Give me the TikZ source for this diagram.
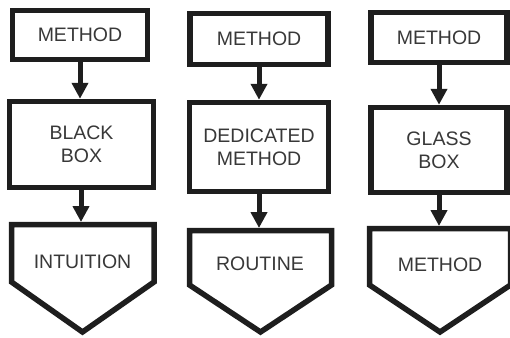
\documentclass[tikz,border=0pt]{standalone}
\usepackage{fontspec}
\setmainfont{Liberation Sans}
\usetikzlibrary{arrows.meta}
\definecolor{ink}{HTML}{1E1E1E}
\definecolor{txt}{HTML}{383838}
\begin{document}
\begin{tikzpicture}[x=1pt,y=-1pt,
  lbl/.style={text=txt, align=center, inner sep=0pt, font=\fontsize{19.5}{23}\selectfont},
  box/.style={lbl, draw=ink, line width=5.5pt, rectangle},
  pent/.style={draw=ink, line width=5.5pt, line join=miter},
  flow/.style={draw=ink, line width=5pt, -{Triangle[width=16pt,length=16pt]}}]
\useasboundingbox (0,0) rectangle (510,337);

% column 1
\node[box, minimum width=135pt, minimum height=49pt] (a1) at (80,35) {METHOD};
\node[box, minimum width=144pt, minimum height=86pt] (b1) at (81.5,144.5) {BLACK\\BOX};
\draw[pent] (11.5,224.5) -- (154,224.5) -- (154,282) -- (82.5,332) -- (11.5,282) -- cycle;
\coordinate (c1top) at (81,222);
\node[lbl] (c1) at (82.5,262) {INTUITION};
\draw[flow] (a1) -- (a1 |- b1.north);
\draw[flow] (b1.south -| c1top) -- (c1top);

% column 2
\node[box, minimum width=138pt, minimum height=51pt] (a2) at (259,39) {METHOD};
\node[box, minimum width=139pt, minimum height=89pt] (b2) at (259,147) {DEDICATED\\METHOD};
\draw[pent] (189.5,230.5) -- (331.5,230.5) -- (331.5,285) -- (260.5,332) -- (189.5,285) -- cycle;
\coordinate (c2top) at (259,228);
\node[lbl] (c2) at (260,264) {ROUTINE};
\draw[flow] (a2) -- (b2);
\draw[flow] (b2) -- (c2top);

% column 3
\node[box, minimum width=136pt, minimum height=50pt] (a3) at (439,37.5) {METHOD};
\node[box, minimum width=136pt, minimum height=85pt] (b3) at (439,150) {GLASS\\BOX};
\draw[pent] (369.5,228.5) -- (510.5,228.5) -- (510.5,285) -- (440,332) -- (369.5,285) -- cycle;
\coordinate (c3top) at (439,226);
\node[lbl] (c3) at (440,265) {METHOD};
\draw[flow] (a3) -- (b3);
\draw[flow] (b3) -- (c3top);
\end{tikzpicture}
\end{document}
